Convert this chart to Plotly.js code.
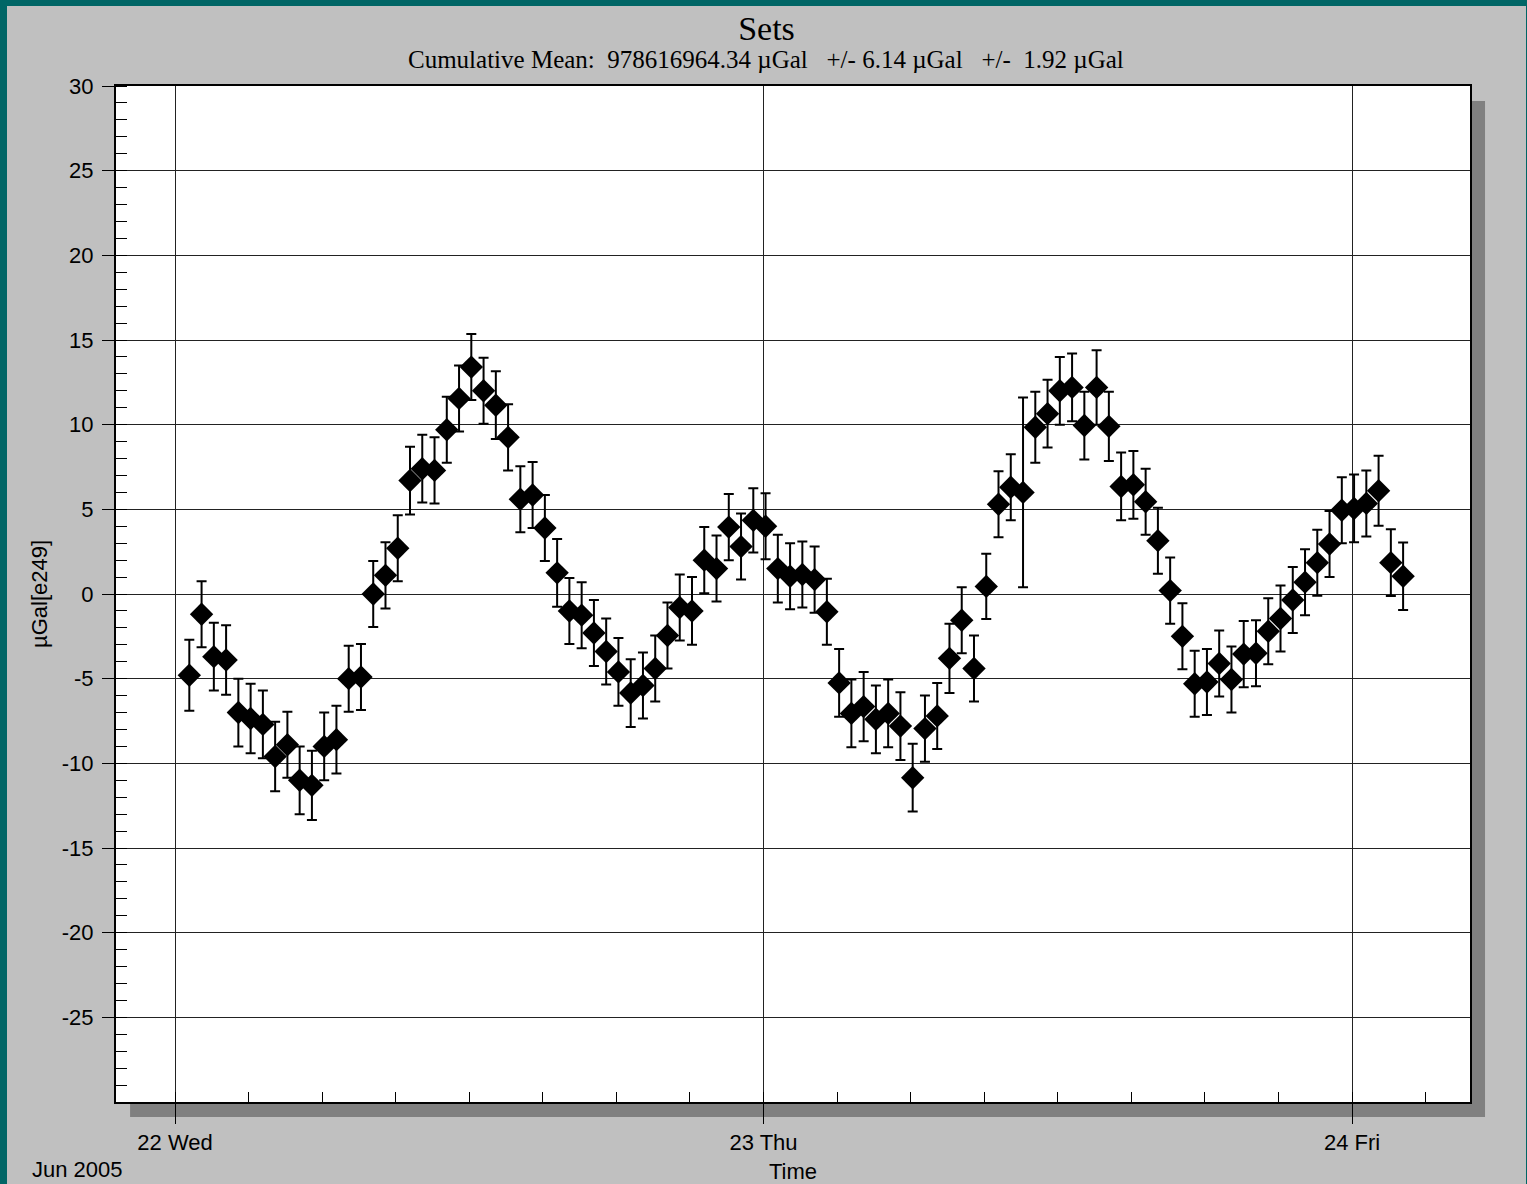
<!DOCTYPE html>
<html>
<head>
<meta charset="utf-8">
<script src="https://cdn.plot.ly/plotly-3.0.1.min.js"></script>
<style>
html,body{margin:0;padding:0;background:#006666;width:1527px;height:1184px;overflow:hidden}
#chart{position:absolute;left:7px;top:6px;width:1519px;height:1178px}
</style>
</head>
<body>
<div id="chart"></div>
<script>
// Measurement times (one set every 30 minutes)
const times = [
 '2005-06-22 00:35','2005-06-22 01:05','2005-06-22 01:35','2005-06-22 02:05','2005-06-22 02:35','2005-06-22 03:05',
 '2005-06-22 03:35','2005-06-22 04:05','2005-06-22 04:35','2005-06-22 05:05','2005-06-22 05:35','2005-06-22 06:05',
 '2005-06-22 06:35','2005-06-22 07:05','2005-06-22 07:35','2005-06-22 08:05','2005-06-22 08:35','2005-06-22 09:05',
 '2005-06-22 09:35','2005-06-22 10:05','2005-06-22 10:35','2005-06-22 11:05','2005-06-22 11:35','2005-06-22 12:05',
 '2005-06-22 12:35','2005-06-22 13:05','2005-06-22 13:35','2005-06-22 14:05','2005-06-22 14:35','2005-06-22 15:05',
 '2005-06-22 15:35','2005-06-22 16:05','2005-06-22 16:35','2005-06-22 17:05','2005-06-22 17:35','2005-06-22 18:05',
 '2005-06-22 18:35','2005-06-22 19:05','2005-06-22 19:35','2005-06-22 20:05','2005-06-22 20:35','2005-06-22 21:05',
 '2005-06-22 21:35','2005-06-22 22:05','2005-06-22 22:35','2005-06-22 23:05','2005-06-22 23:35',
 '2005-06-23 00:05','2005-06-23 00:35','2005-06-23 01:05','2005-06-23 01:35','2005-06-23 02:05','2005-06-23 02:35',
 '2005-06-23 03:05','2005-06-23 03:35','2005-06-23 04:05','2005-06-23 04:35','2005-06-23 05:05','2005-06-23 05:35',
 '2005-06-23 06:05','2005-06-23 06:35','2005-06-23 07:05','2005-06-23 07:35','2005-06-23 08:05','2005-06-23 08:35',
 '2005-06-23 09:05','2005-06-23 09:35','2005-06-23 10:05','2005-06-23 10:35','2005-06-23 11:05','2005-06-23 11:35',
 '2005-06-23 12:05','2005-06-23 12:35','2005-06-23 13:05','2005-06-23 13:35','2005-06-23 14:05','2005-06-23 14:35',
 '2005-06-23 15:05','2005-06-23 15:35','2005-06-23 16:05','2005-06-23 16:35','2005-06-23 17:05','2005-06-23 17:35',
 '2005-06-23 18:05','2005-06-23 18:35','2005-06-23 19:05','2005-06-23 19:35','2005-06-23 20:05','2005-06-23 20:35',
 '2005-06-23 21:05','2005-06-23 21:35','2005-06-23 22:05','2005-06-23 22:35','2005-06-23 23:05','2005-06-23 23:35',
 '2005-06-24 00:05','2005-06-24 00:35','2005-06-24 01:05','2005-06-24 01:35','2005-06-24 02:05'
];

// Set gravity residuals (µGal)
const values = [
 -4.8, -1.2, -3.7, -3.9, -7.0, -7.35, -7.7, -9.6, -8.9, -11.0,
 -11.3, -9.0, -8.6, -5.0, -4.9, 0.0, 1.1, 2.7, 6.7, 7.4,
 7.3, 9.7, 11.55, 13.4, 12.0, 11.15, 9.25, 5.6, 5.85, 3.9,
 1.25, -1.0, -1.25, -2.3, -3.4, -4.6, -5.85, -5.4, -4.4, -2.45,
 -0.8, -1.0, 2.0, 1.5, 3.95, 2.8, 4.35, 4.0, 1.5, 1.05,
 1.15, 0.85, -1.05, -5.25, -7.05, -6.65, -7.4, -7.05, -7.8, -10.85,
 -7.95, -7.2, -3.8, -1.55, -4.4, 0.45, 5.3, 6.3, 6.0, 9.85,
 10.65, 12.0, 12.2, 9.95, 12.2, 9.9, 6.35, 6.45, 5.45, 3.15,
 0.2, -2.5, -5.3, -5.2, -4.1, -5.05, -3.55, -3.5, -2.2, -1.45,
 -0.35, 0.7, 1.85, 2.95, 4.95, 5.05, 5.35, 6.1, 1.85, 1.05
];

// Set uncertainties (µGal)
const errors = [
 2.1, 1.95, 2.0, 2.05, 2.0, 2.05, 2.0, 2.05, 1.95, 2.0,
 2.05, 2.0, 2.0, 1.95, 1.95, 1.95, 1.95, 1.95, 2.0, 2.0,
 1.95, 1.95, 1.95, 1.95, 1.95, 2.0, 1.95, 1.95, 1.95, 1.95,
 2.0, 1.95, 1.95, 1.95, 1.95, 2.0, 2.0, 1.95, 1.95, 1.95,
 1.95, 2.0, 1.95, 1.95, 1.95, 1.95, 1.9, 1.95, 2.0, 1.95,
 1.95, 1.95, 1.95, 2.0, 2.0, 2.05, 2.0, 2.0, 2.0, 2.0,
 1.95, 1.95, 2.05, 1.95, 1.95, 1.92, 1.95, 1.95, 5.6, 2.1,
 2.0, 2.0, 2.0, 2.0, 2.2, 2.05, 2.0, 2.0, 1.95, 1.95,
 1.95, 1.95, 1.95, 1.95, 1.95, 1.95, 1.95, 1.95, 1.95, 1.95,
 1.95, 1.95, 1.95, 1.95, 1.95, 2.0, 1.95, 2.07, 1.97, 1.99
];

const dayTicks = ['2005-06-22', '2005-06-23', '2005-06-24'];
const yTickVals = [30, 25, 20, 15, 10, 5, 0, -5, -10, -15, -20, -25];
const yTickText = ['30', '25', '20', '15', '10', '5', '0', '-5', '-10', '-15', '-20', '-25'];

const titleText = 'Sets';
const subtitleText = 'Cumulative Mean:\u00a0\u00a0978616964.34 \u00b5Gal\u00a0\u00a0\u00a0+/- 6.14 \u00b5Gal\u00a0\u00a0\u00a0+/-\u00a0\u00a01.92 \u00b5Gal';
const yearLabel = 'Jun 2005';

const sans = 'Liberation Sans, Arial, sans-serif';
const serif = 'Liberation Serif, Times New Roman, serif';

const trace = {
  type: 'scatter',
  mode: 'markers',
  x: times,
  y: values,
  marker: {symbol: 'diamond', size: 18, color: '#000000', line: {width: 0}},
  error_y: {type: 'data', array: errors, visible: true, color: '#000000', thickness: 2, width: 5},
  showlegend: false,
  hoverinfo: 'x+y'
};

const layout = {
  width: 1519,
  height: 1178,
  paper_bgcolor: '#c0c0c0',
  plot_bgcolor: 'rgba(0,0,0,0)',
  margin: {l: 109, r: 56, t: 80, b: 82, pad: 0},
  showlegend: false,
  title: {
    text: titleText,
    font: {family: serif, size: 34, color: '#000'},
    x: 0.5, xref: 'container', xanchor: 'center',
    y: 0.981, yref: 'container', yanchor: 'middle'
  },
  xaxis: {
    type: 'date',
    range: ['2005-06-21 21:35:36', '2005-06-24 04:48:40'],
    tickmode: 'array',
    tickvals: dayTicks,
    tickformat: '%d %a',
    ticks: 'outside', ticklen: 20, tickwidth: 1, tickcolor: '#000',
    ticklabelstandoff: 0,
    tickfont: {family: sans, size: 22, color: '#000'},
    showgrid: true, gridcolor: '#222222', gridwidth: 1,
    zeroline: false,
    showline: true, mirror: true, linecolor: '#000', linewidth: 2,
    minor: {dtick: 10800000, tick0: '2005-06-22', ticks: 'inside', ticklen: 10, tickwidth: 1, tickcolor: '#000', showgrid: false},
    title: {text: 'Time', font: {family: sans, size: 22, color: '#000'}, standoff: 12},
    automargin: false,
    fixedrange: true
  },
  yaxis: {
    range: [-30, 30],
    tickmode: 'array',
    tickvals: yTickVals,
    ticktext: yTickText,
    ticks: 'outside', ticklen: 12, tickwidth: 1, tickcolor: '#000',
    ticklabelstandoff: 4,
    tickfont: {family: sans, size: 22, color: '#000'},
    showgrid: true, gridcolor: '#222222', gridwidth: 1,
    zeroline: false,
    showline: true, mirror: true, linecolor: '#000', linewidth: 2,
    minor: {dtick: 1, tick0: 0, ticks: 'inside', ticklen: 11, tickwidth: 1, tickcolor: '#000', showgrid: false},
    title: {text: '\u00b5Gal[e249]', font: {family: sans, size: 22, color: '#000'}, standoff: 8},
    automargin: false,
    fixedrange: true
  },
  shapes: [
    {type: 'rect', xref: 'paper', yref: 'paper', x0: 0.0104, x1: 1.0111, y0: -0.0148, y1: 0.9852,
     fillcolor: '#808080', line: {width: 0}, layer: 'below'},
    {type: 'rect', xref: 'paper', yref: 'paper', x0: 0, x1: 1, y0: 0, y1: 1,
     fillcolor: '#ffffff', line: {width: 0}, layer: 'below'}
  ],
  annotations: [
    {text: subtitleText, xref: 'paper', yref: 'paper', x: 0.4804, y: 1.0256,
     xanchor: 'center', yanchor: 'middle', showarrow: false,
     font: {family: serif, size: 25, color: '#000'}},
    {text: yearLabel, xref: 'paper', yref: 'paper', x: -0.0635, y: -0.066,
     xanchor: 'left', yanchor: 'middle', showarrow: false,
     font: {family: sans, size: 22, color: '#000'}}
  ]
};

Plotly.newPlot('chart', [trace], layout, {displayModeBar: false, staticPlot: true});
</script>
</body>
</html>
